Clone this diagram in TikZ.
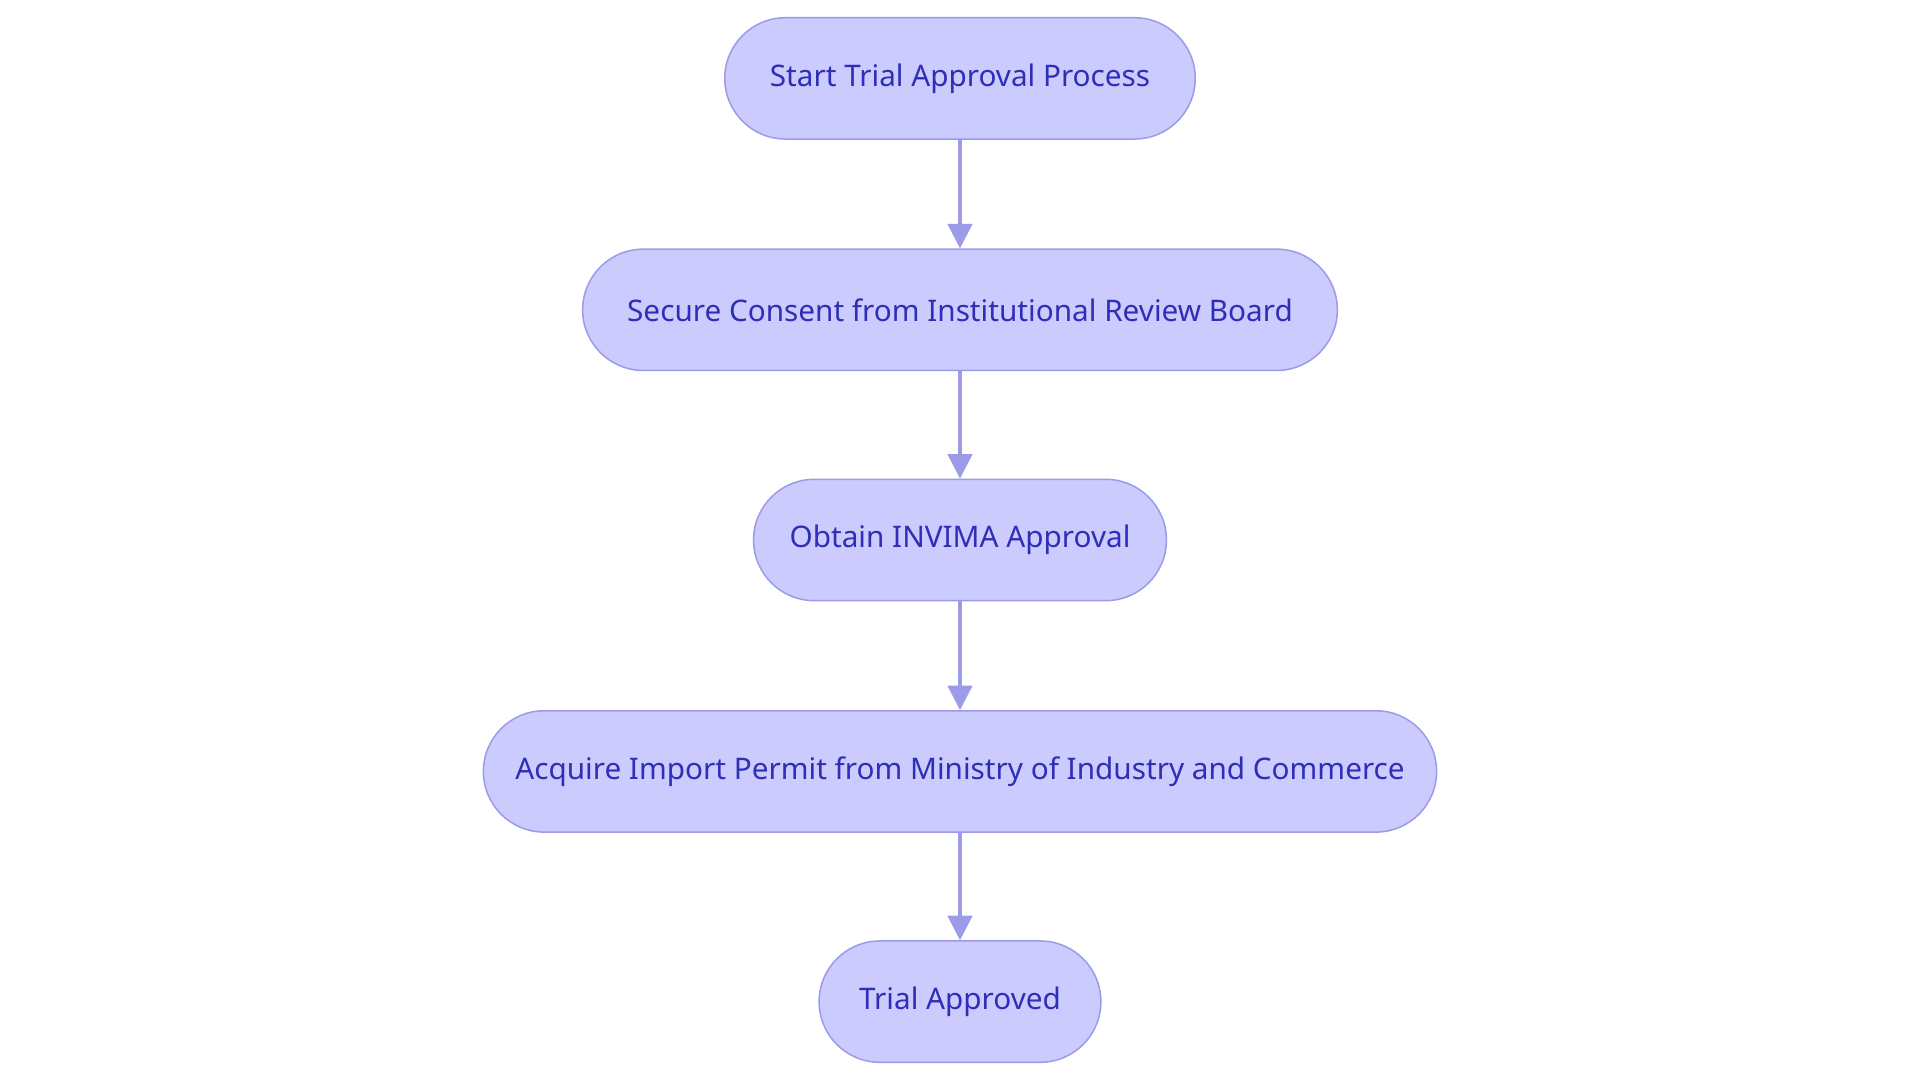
\documentclass[tikz,border=0pt]{standalone}
\usepackage{fontspec}
\setmainfont{Noto Sans}
\usetikzlibrary{arrows.meta}
\definecolor{fillc}{HTML}{CBCBFD}
\definecolor{linec}{HTML}{9B9BEA}
\definecolor{textc}{HTML}{2E2EB8}
\begin{document}
\begin{tikzpicture}[x=0.01cm,y=-0.01cm,
  box/.style={draw=linec,fill=fillc,line width=0.35pt,rounded corners=0.495cm,minimum height=0.99cm,text=textc,font=\fontsize{6.9pt}{8pt}\selectfont,inner sep=0pt},
  arr/.style={draw=linec,line width=0.75pt,-{Triangle[length=0.2cm,width=0.2cm]}}]
\useasboundingbox (0,0) rectangle (1568,882);
\node[box,minimum width=3.84cm] (a) at (784,64) {Start Trial Approval Process};
\node[box,minimum width=6.16cm] (b) at (784,253) {Secure Consent from Institutional Review Board};
\node[box,minimum width=3.37cm] (c) at (784,441) {Obtain INVIMA Approval};
\node[box,minimum width=7.78cm] (d) at (784,630) {Acquire Import Permit from Ministry of Industry and Commerce};
\node[box,minimum width=2.30cm] (e) at (784,818) {Trial Approved};
\draw[arr] (a) -- (b);
\draw[arr] (b) -- (c);
\draw[arr] (c) -- (d);
\draw[arr] (d) -- (e);
\end{tikzpicture}
\end{document}
